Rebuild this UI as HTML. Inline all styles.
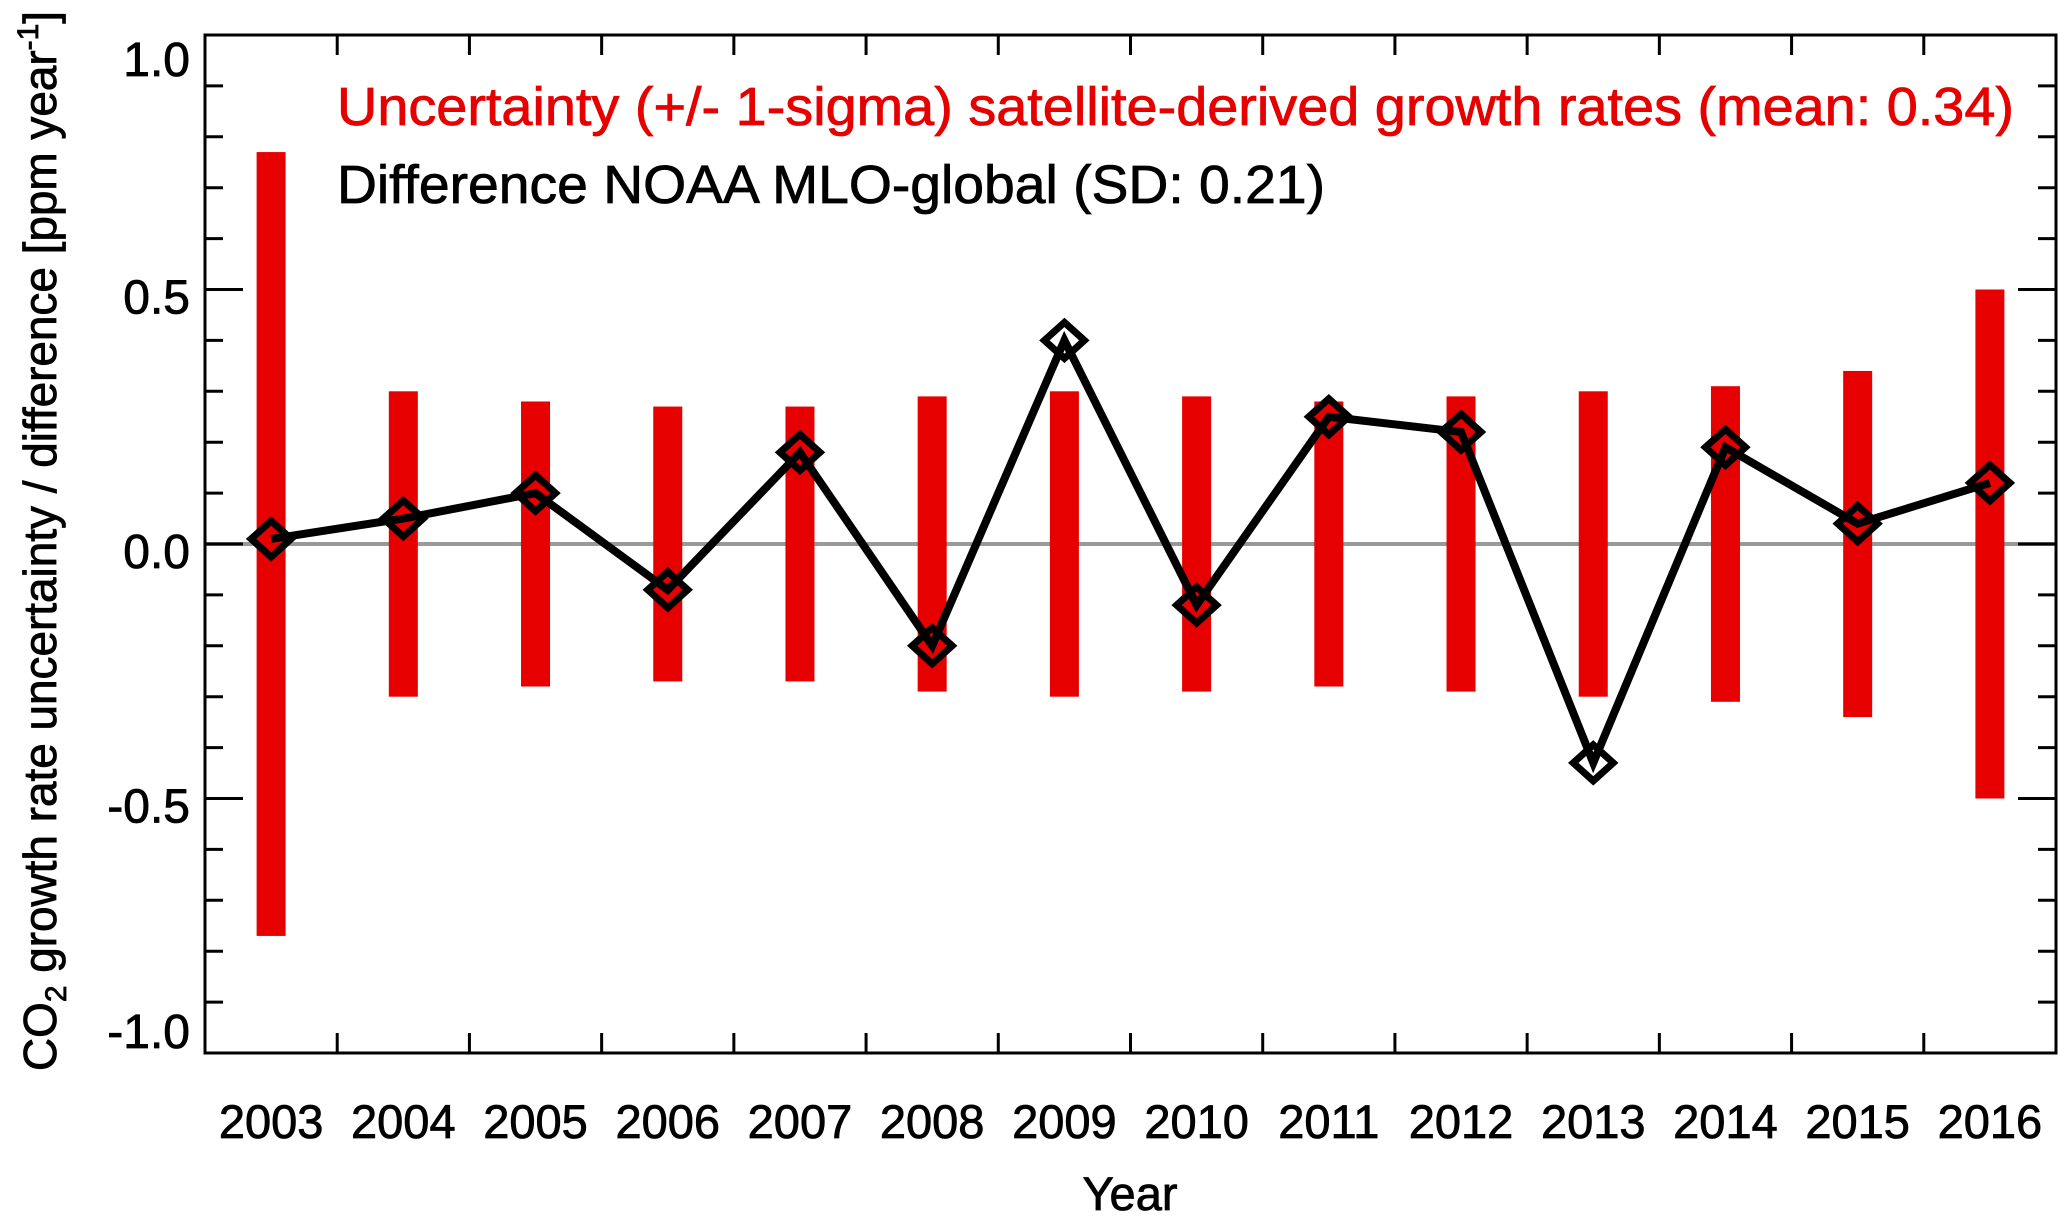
<!DOCTYPE html>
<html><head><meta charset="utf-8">
<style>html,body{margin:0;padding:0;background:#fff}svg{display:block}</style>
</head><body>
<svg id="chart" width="2067" height="1222" viewBox="0 0 2067 1222" xmlns="http://www.w3.org/2000/svg" font-family="'Liberation Sans', sans-serif"></svg>
<script>
const years = [2003,2004,2005,2006,2007,2008,2009,2010,2011,2012,2013,2014,2015,2016];
const uncertainty = [0.77,0.30,0.28,0.27,0.27,0.29,0.30,0.29,0.28,0.29,0.30,0.31,0.34,0.50];
const difference = [0.01,0.05,0.10,-0.09,0.18,-0.20,0.40,-0.12,0.25,0.22,-0.43,0.19,0.04,0.12];
const yTickValues = [-1.0,-0.5,0.0,0.5,1.0];
const yTickLabels = ["-1.0","-0.5","0.0","0.5","1.0"];

const NS = "http://www.w3.org/2000/svg";
const svg = document.getElementById('chart');
const L=205, R=2056, T=35, B=1053;
const xMin = years[0]-0.5, xMax = years[years.length-1]+0.5;
const xs = v => L + (v-xMin)/(xMax-xMin)*(R-L);
const ys = v => T + (1.0 - v)/2.0*(B-T);
function el(tag, attrs, parent){
  const e = document.createElementNS(NS, tag);
  for (const k in attrs) e.setAttribute(k, attrs[k]);
  (parent||svg).appendChild(e);
  return e;
}

const zl = el('line',{x1:L,x2:R,y1:ys(0),y2:ys(0),stroke:'#999',"stroke-width":4});



const barsG = el('g',{});


years.forEach((yr,i)=>{
  const u = uncertainty[i];
  const r = el('rect',{x:xs(yr)-14.5,y:ys(u),width:29,height:ys(-u)-ys(u),fill:'#e60000'},barsG);
  
  
});

const pts = years.map((yr,i)=>xs(yr)+','+ys(difference[i])).join(' ');
const pl = el('polyline',{points:pts,fill:'none',stroke:'#000',"stroke-width":8,"stroke-linejoin":'miter'});


years.forEach((yr,i)=>{
  const cx = xs(yr), cy = ys(difference[i]);
  const d = el('polygon',{points:`${cx},${cy-18} ${cx+20},${cy} ${cx},${cy+18} ${cx-20},${cy}`,fill:'none',stroke:'#000',"stroke-width":7});
  
  
});

const fr = el('rect',{x:L,y:T,width:R-L,height:B-T,fill:'none',stroke:'#000',"stroke-width":3});



const tg = el('g',{stroke:'#000',"stroke-width":3});


for (let k=-10;k<=10;k++){
  const y = ys(k/10);
  const len = (k%5===0)?38:18;
  el('line',{x1:L,x2:L+len,y1:y,y2:y},tg);
  el('line',{x1:R,x2:R-len,y1:y,y2:y},tg);
}
for (let k=1;k<years.length;k++){
  const x = xs(years[0]-0.5+k);
  el('line',{x1:x,x2:x,y1:B,y2:B-20},tg);
  el('line',{x1:x,x2:x,y1:T,y2:T+20},tg);
}

yTickValues.forEach((v,i)=>{
  let by = ys(v)+24; by = Math.max(76, Math.min(1048, by));
  const t = el('text',{x:190,y:by,"text-anchor":'end',"font-size":48,fill:'#000',stroke:'#000',"stroke-width":0.8});
  t.textContent = yTickLabels[i];
  
  
});
years.forEach(yr=>{
  const t = el('text',{x:xs(yr),y:1138,"text-anchor":'middle',"font-size":47,fill:'#000',stroke:'#000',"stroke-width":0.8});
  t.textContent = String(yr);
  
  
});
</script>
<script>
(function(){
  const svg = document.getElementById('chart');
  svg.insertAdjacentHTML('beforeend',
  '<text x="1130" y="1210" text-anchor="middle" font-size="47" fill="#000" stroke="#000" stroke-width="0.8">Year</text>' +
  '<text transform="translate(56,541) rotate(-90)" text-anchor="middle" font-size="46" fill="#000" stroke="#000" stroke-width="0.8" textLength="1060" lengthAdjust="spacingAndGlyphs">CO<tspan font-size="30" dy="10">2</tspan><tspan dy="-10"> growth rate uncertainty / difference  [ppm year</tspan><tspan font-size="30" dy="-18">-1</tspan><tspan dy="18">]</tspan></text>' +
  '<text x="337" y="125" font-size="54" fill="#e60000" stroke="#e60000" stroke-width="0.8" textLength="1677" lengthAdjust="spacingAndGlyphs">Uncertainty (+/- 1-sigma) satellite-derived growth rates (mean: 0.34)</text>' +
  '<text x="337" y="203" font-size="54" fill="#000" stroke="#000" stroke-width="0.8" textLength="988" lengthAdjust="spacingAndGlyphs">Difference NOAA MLO-global  (SD: 0.21)</text>');
})();
</script>
</body></html>
